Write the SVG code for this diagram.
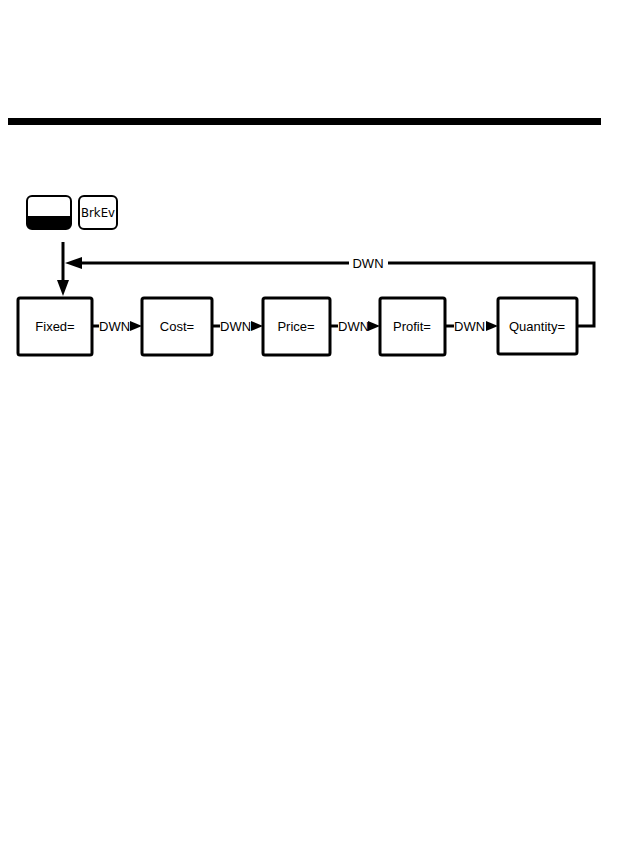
<svg xmlns="http://www.w3.org/2000/svg" width="633" height="865" viewBox="0 0 633 865">
<style>
.box{fill:#fff;stroke:#000;stroke-width:3}
.lbl{font-family:"Liberation Sans",Arial,sans-serif;font-size:13px;fill:#000;text-anchor:middle;dominant-baseline:central}
.dwn{font-family:"Liberation Sans",Arial,sans-serif;font-size:13px;fill:#000;dominant-baseline:central}
.ln{fill:none;stroke:#000;stroke-width:3}
</style>
<rect width="633" height="865" fill="#fff"/>
<rect x="8" y="118" width="593" height="7" fill="#000"/>
<g id="key1">
<rect x="27" y="196" width="44" height="33" rx="5" fill="#fff" stroke="#000" stroke-width="2"/>
<path d="M27,216 H71 V224 a5,5 0 0 1 -5,5 H32 a5,5 0 0 1 -5,-5 Z" fill="#000"/>
</g>
<g id="key2">
<rect x="79" y="196" width="38" height="33" rx="5" fill="#fff" stroke="#000" stroke-width="2"/>
<text x="98" y="217" style="font-family:'DejaVu Sans Condensed','DejaVu Sans',sans-serif;font-size:13px;font-weight:500;text-anchor:middle;fill:#000">BrkEv</text>
</g>
<g id="connectors">
<path class="ln" d="M63,242 V282"/>
<polygon points="57,280 69,280 63,296"/>
<path class="ln" d="M80,263 H594 V326 H577"/>
<polygon points="65,263 82,257 82,269"/>
<rect x="349" y="255" width="39" height="16" fill="#fff"/>
<text x="368" y="263" class="lbl">DWN</text>
<path class="ln" d="M92,326 H99"/>
<text x="99" y="326" class="dwn">DWN</text>
<polygon points="130,321 142,326 130,331"/>
<path class="ln" d="M212,326 H220"/>
<text x="220" y="326" class="dwn">DWN</text>
<polygon points="251,321 263,326 251,331"/>
<path class="ln" d="M330,326 H338"/>
<text x="338" y="326" class="dwn">DWN</text>
<polygon points="368,321 380,326 368,331"/>
<path class="ln" d="M445,326 H454"/>
<text x="454" y="326" class="dwn">DWN</text>
<polygon points="486,321 498,326 486,331"/>
</g>
<g id="fixed"><rect class="box" x="18" y="298" width="74" height="57" rx="2"/><text x="55" y="326" class="lbl">Fixed=</text></g>
<g id="cost"><rect class="box" x="142" y="298" width="70" height="57" rx="2"/><text x="177" y="326" class="lbl">Cost=</text></g>
<g id="price"><rect class="box" x="263" y="298" width="67" height="57" rx="2"/><text x="296" y="326" class="lbl">Price=</text></g>
<g id="profit"><rect class="box" x="380" y="298" width="65" height="57" rx="2"/><text x="412" y="326" class="lbl">Profit=</text></g>
<g id="quantity"><rect class="box" x="498" y="298" width="79" height="56" rx="2"/><text x="537" y="326" class="lbl">Quantity=</text></g>
</svg>
